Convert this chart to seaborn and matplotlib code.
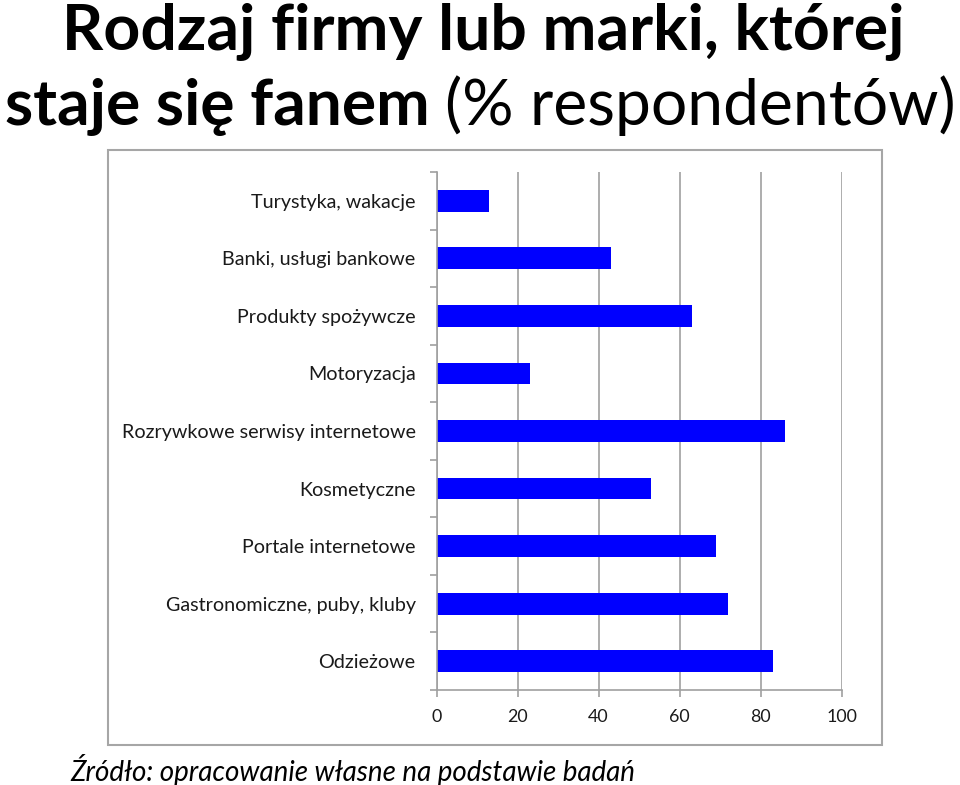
import matplotlib
matplotlib.use("Agg")
import matplotlib.pyplot as plt
import seaborn as sns
import pandas as pd
from matplotlib.patches import Rectangle
from matplotlib.ticker import FixedLocator

categories = [
    "Turystyka, wakacje",
    "Banki, usługi bankowe",
    "Produkty spożywcze",
    "Motoryzacja",
    "Rozrywkowe serwisy internetowe",
    "Kosmetyczne",
    "Portale internetowe",
    "Gastronomiczne, puby, kluby",
    "Odzieżowe",
]
values = [13, 43, 63, 23, 86, 53, 69, 72, 83]
x_ticks = [0, 20, 40, 60, 80, 100]

title_line1 = "Rodzaj firmy lub marki, której"
title_line2_bold = "staje się fanem"
title_line2_normal = "(% respondentów)"
source_text = "Źródło: opracowanie własne na podstawie badań"

sns.set_theme(style="white")
FONT = ["Lato", "DejaVu Sans"]
plt.rcParams["font.family"] = FONT

W, H = 960, 785
fig = plt.figure(figsize=(W / 100, H / 100), dpi=100)
fig.patch.set_facecolor("white")

# outer bordered box
fig.patches.append(Rectangle((108 / W, 1 - 745 / H), (882 - 108) / W, (745 - 150) / H,
                             transform=fig.transFigure, fill=False,
                             edgecolor="#A6A6A6", linewidth=1.5, zorder=0))

ax = fig.add_axes([436.5 / W, 1 - 690 / H, 405 / W, 518 / H])
df = pd.DataFrame({"cat": categories, "val": values})
sns.barplot(data=df, y="cat", x="val", orient="h", color="#0000FF",
            width=0.38, saturation=1, edgecolor="none", ax=ax)

fig.canvas.draw()
r = fig.canvas.get_renderer()

# measure label font size so the longest label spans like the reference
probe = fig.text(0, 0, max(categories, key=len), fontsize=12)
lab_fs = 12 * 293 / probe.get_window_extent(r).width
probe.remove()
probe = fig.text(0, 0, "100", fontsize=12)
xt_fs = 12 * 31 / probe.get_window_extent(r).width
probe.remove()

ax.set_xlim(0, 100)
ax.set_ylim(len(categories) - 0.5, -0.5)
ax.set_xticks(x_ticks)
ax.set_xticklabels([str(t) for t in x_ticks], fontsize=xt_fs, color="#1a1a1a")
ax.set_xlabel("")
ax.set_ylabel("")
ax.xaxis.grid(True, color="#A0A0A0", linewidth=1.2)
ax.yaxis.grid(False)
ax.set_axisbelow(True)
for s in ["top", "right"]:
    ax.spines[s].set_visible(False)
for s in ["left", "bottom"]:
    ax.spines[s].set_visible(True)
    ax.spines[s].set_color("#A0A0A0")
    ax.spines[s].set_linewidth(1.2)

ax.tick_params(axis="x", which="major", direction="out", length=5, width=1.2,
               color="#A0A0A0", pad=9, bottom=True)
ax.tick_params(axis="y", which="major", length=0, pad=15, labelsize=lab_fs,
               labelcolor="#1a1a1a")
ax.yaxis.set_minor_locator(FixedLocator([i + 0.5 for i in range(-1, len(categories))]))
ax.tick_params(axis="y", which="minor", direction="out", length=5, width=1.2,
               color="#A0A0A0", left=True)

def fit(text, target_w, **kw):
    t = fig.text(0, 0, text, **kw)
    w = t.get_window_extent(r).width
    t.set_fontsize(t.get_fontsize() * target_w / w)
    return t

t1 = fit(title_line1, 843, fontsize=40, fontweight="bold", color="black")
t1.set_position((483.5 / W, 1 - 50 / H))
t1.set_ha("center")
t1.set_va("baseline")

tb = fig.text(0, 0, title_line2_bold + " ", fontsize=t1.get_fontsize(),
              fontweight="bold", color="black")
tn = fig.text(0, 0, title_line2_normal, fontsize=t1.get_fontsize(),
              fontweight="normal", color="black")
wb = tb.get_window_extent(r).width
wn = tn.get_window_extent(r).width
scale = 950 / (wb + wn)
tb.set_fontsize(tb.get_fontsize() * scale)
tn.set_fontsize(tn.get_fontsize() * scale)
wb *= scale
wn *= scale
x0 = 480 - (wb + wn) / 2
for t, x in [(tb, x0), (tn, x0 + wb)]:
    t.set_position((x / W, 1 - 125 / H))
    t.set_va("baseline")
    t.set_ha("left")

ts = fit(source_text, 565, fontsize=18, style="italic", color="black")
ts.set_position((70 / W, 1 - 770 / H))
ts.set_va("center")

fig.savefig("out.png", dpi=100, facecolor="white")
